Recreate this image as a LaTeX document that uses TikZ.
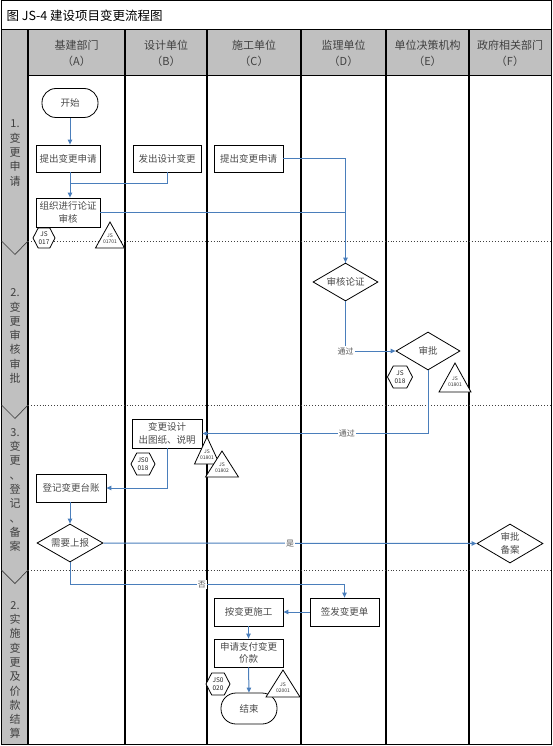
\documentclass[tikz,border=0pt]{standalone}
\usepackage{fontspec}
\setmainfont{Noto Sans CJK SC}
\usetikzlibrary{shapes.geometric,shapes.symbols,arrows.meta,calc,shadows}
\definecolor{hdr}{HTML}{C0C0C0}
\definecolor{flow}{HTML}{4A7EBB}
\newcommand\anntri[6]{%
  \coordinate (#1) at (#2,#3);
  \draw[annot] (#1) -- ++(#4,#5) -- ++(-2*#4,0) -- cycle;
  \node[tl] (#1l) at ($(#1)+(0,0.64*#5)$) {#6};}
\begin{document}
\begin{tikzpicture}[x=1pt,y=-1pt,
  col/.style={line width=1.3pt,black},
  sep/.style={dotted,line width=0.9pt,black!75},
  vee/.style={line width=0.7pt,black!75},
  hd/.style={font=\fontsize{11}{16}\selectfont,text=black!75,align=center},
  ph/.style={font=\fontsize{11}{14.3}\selectfont,text=black!75,align=center},
  box/.style={draw,line width=0.8pt,fill=white,align=center,inner sep=1pt,
    font=\fontsize{9.5}{12.5}\selectfont,text=black!70,
    drop shadow={shadow xshift=1pt,shadow yshift=-1pt,fill=black!60,opacity=1}},
  term/.style={draw,line width=0.8pt,fill=white,rounded corners=14pt,
    minimum width=56pt,minimum height=29pt,font=\fontsize{9.5}{12}\selectfont,text=black!70},
  dia/.style={draw,diamond,aspect=1.7,line width=0.8pt,fill=white,inner sep=0pt,
    font=\fontsize{9.5}{12.5}\selectfont,text=black!70,align=center},
  hexa/.style={draw,signal,signal to=west and east,signal pointer angle=125,fill=white,
    line width=0.8pt,inner sep=0pt,font=\fontsize{6.5}{7.5}\selectfont,align=center,text=black!85},
  annot/.style={draw,line width=0.8pt,fill=white},
  tl/.style={font=\fontsize{5}{6}\selectfont,align=center,text=black!80,inner sep=0pt},
  flow/.style={draw=flow,line width=1pt,-{Triangle[length=5pt,width=4.5pt]}},
  flowline/.style={draw=flow,line width=1pt},
  lbl/.style={fill=white,inner sep=1pt,font=\fontsize{8}{9}\selectfont,text=black!65}
]
\useasboundingbox (0,0) rectangle (553,746);
% backgrounds
\fill[hdr] (1,30) rectangle (551.5,75);
\fill[hdr] (1,75) rectangle (28,744.5);
% frame
\draw[line width=1pt] (1,1) rectangle (551.5,744.5);
\draw[line width=1pt] (1,30) -- (551.5,30);
\draw[line width=0.6pt] (28,75) -- (551.5,75);
\foreach \x in {28,125,207,301,386,469} \draw[col] (\x,30) -- (\x,744.5);
% phase separators
\foreach \y in {241,405,570} {
  \draw[sep] (28,\y) -- (551,\y);
  \draw[vee] (1.5,\y) -- (15,\y+13.5) -- (28,\y);
}
% title and headers
\node[anchor=west,font=\fontsize{12.5}{14}\selectfont] (title) at (3,16) {图 JS-4 建设项目变更流程图};
\node[hd] (hA) at (76.5,53) {基建部门\\（A）};
\node[hd] (hB) at (166,53) {设计单位\\（B）};
\node[hd] (hC) at (254,53) {施工单位\\（C）};
\node[hd] (hD) at (343.5,53) {监理单位\\（D）};
\node[hd] (hE) at (427.5,53) {单位决策机构\\（E）};
\node[hd] (hF) at (510,53) {政府相关部门\\（F）};
% phase labels
\node[ph] (p1) at (15,153) {1.\\变\\更\\申\\请};
\node[ph] (p2) at (15,336) {2.\\变\\更\\审\\核\\审\\批};
\node[ph] (p3) at (15,490) {3.\\变\\更\\、\\登\\记\\、\\备\\案};
\node[ph] (p4) at (15,670) {2.\\实\\施\\变\\更\\及\\价\\款\\结\\算};
% nodes
\node[term] (start) at (70,103) {开始};
\node[box,minimum width=64pt,minimum height=27pt] (reqA) at (68,158.5) {提出变更申请};
\node[box,minimum width=64pt,minimum height=29pt] (org) at (68,212.5) {组织进行论证\\审核};
\node[box,minimum width=68pt,minimum height=27pt] (desB) at (167,158.5) {发出设计变更};
\node[box,minimum width=69pt,minimum height=27pt] (reqC) at (248.5,158.5) {提出变更申请};
\node[dia,minimum width=65pt,minimum height=38pt] (chk) at (345.5,282) {审核论证};
\node[dia,minimum width=64pt,minimum height=38pt] (appr) at (428,351) {审批};
\node[box,minimum width=70pt,minimum height=29pt] (chgB) at (167,433.5) {变更设计\\出图纸、说明};
\node[box,minimum width=70pt,minimum height=28pt] (regA) at (71,488) {登记变更台账};
\node[dia,minimum width=66pt,minimum height=38pt] (need) at (70,543) {需要上报};
\node[dia,minimum width=66pt,minimum height=39pt] (fil) at (510,543.5) {审批\\备案};
\node[box,minimum width=69pt,minimum height=28pt] (const) at (248.5,612) {按变更施工};
\node[box,minimum width=69pt,minimum height=28pt] (sign) at (344.5,612) {签发变更单};
\node[box,minimum width=69pt,minimum height=28pt] (pay) at (248.5,653) {申请支付变更\\价款};
\node[term,minimum width=56pt,minimum height=31pt,rounded corners=15pt] (end) at (249,708.5) {结束};
% connectors
\coordinate (xa) at (70,0);
\coordinate (mrg) at (70,183);
\draw[flow] (start.south) -- (xa |- reqA.north);
\draw[flow] (xa |- reqA.south) -- (xa |- org.north);
\draw[flowline] (desB.south) |- (mrg);
\draw[flow] (org.east) -| (chk.north);
\draw[flowline] (reqC.east) -| (chk.north);
\draw[flow] (chk.south) |- node[lbl,pos=0.5] {通过} (appr.west);
\draw[flow] (appr.south) |- node[lbl,pos=0.68] {通过} (chgB.east);
\draw[flow] (chgB.south) |- (regA.east);
\draw[flow] (xa |- regA.south) -- (need.north);
\draw[flow] (need.east) -- node[lbl,pos=0.5] {是} (fil.west);
\draw[flow] (need.south) -- ++(0,22) -| node[lbl,pos=0.24] {否} (sign.north);
\draw[flow] (sign.west) -- (const.east);
\draw[flow] (const.south) -- (pay.north);
\draw[flow] (pay.south) -- (end.north);
% annotations
\node[hexa,minimum width=22pt,minimum height=20pt] (h1) at (44,238) {JS\\017};
\node[hexa,minimum width=25pt,minimum height=22pt] (h2) at (400,377) {JS\\018};
\node[hexa,minimum width=24pt,minimum height=22pt] (h3) at (143,464) {JS0\\018};
\node[hexa,minimum width=24pt,minimum height=22pt] (h4) at (218,684) {JS0\\020};
\anntri{t1}{110}{222}{14.5}{26}{JS\\01701}
\anntri{t2}{455}{363}{16}{29}{JS\\01801}
\anntri{t3}{207}{437}{12.5}{27}{JS\\01801}
\anntri{t4}{222}{451}{16.5}{26}{JS\\01802}
\anntri{t5}{283}{670}{17}{27}{JS\\02001}
\end{tikzpicture}
\end{document}
